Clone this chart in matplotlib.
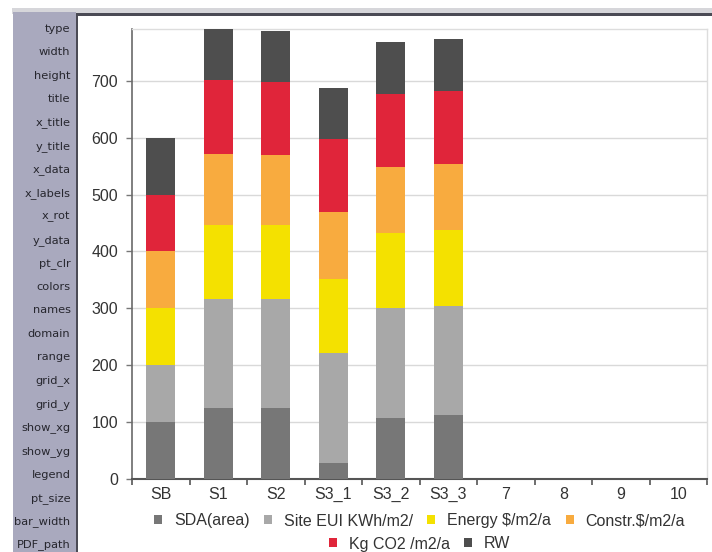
import numpy as np
import matplotlib
matplotlib.use("Agg")
import matplotlib.pyplot as plt
from matplotlib.patches import Rectangle

# ---- data -------------------------------------------------------------
categories = ["SB", "S1", "S2", "S3_1", "S3_2", "S3_3", "7", "8", "9", "10"]
series_names = ["SDA(area)", "Site EUI KWh/m2/", "Energy $/m2/a",
                "Constr.$/m2/a", "Kg CO2 /m2/a", "RW"]
sda = [100, 124, 124, 29, 108, 112]
site_eui = [100, 192, 192, 192, 192, 192]
energy = [100, 131, 131, 131, 132, 133]
constr = [100, 125, 122, 118, 117, 117]
co2 = [100, 129, 128, 127, 128, 128]
rw = [100, 90, 90, 91, 91, 91]
y_ticks = [0, 100, 200, 300, 400, 500, 600, 700]

param_rows = ["type", "width", "height", "title", "x_title", "y_title",
              "x_data", "x_labels", "x_rot", "y_data", "pt_clr", "colors",
              "names", "domain", "range", "grid_x", "grid_y", "show_xg",
              "show_yg", "legend", "pt_size", "bar_width", "PDF_path"]

colors = ["#777777", "#a8a8a8", "#f4e100", "#f8ab3f", "#e0253a", "#4e4e4e"]

# ---- figure / panel chrome -------------------------------------------
W, H = 712, 552
fig = plt.figure(figsize=(W / 100, H / 100), dpi=100)
fig.patch.set_facecolor("white")


def prect(x0, y0, x1, y1, color):
    """Rectangle in pixel units measured from the top-left corner."""
    fig.patches.append(Rectangle((x0 / W, 1 - y1 / H), (x1 - x0) / W,
                                 (y1 - y0) / H, transform=fig.transFigure,
                                 facecolor=color, edgecolor="none",
                                 zorder=0))


prect(12, 8, W, 14, "#d6d6da")          # header strip
prect(12.5, 12, 75.5, H, "#a9a9be")     # parameter column
prect(75.5, 13.5, 77.5, H, "#4b4b55")   # panel left border
prect(75.5, 13.5, W, 15.5, "#4b4b55")   # panel top border

row_y = np.linspace(29, 545, len(param_rows))
for name, yy in zip(param_rows, row_y):
    fig.text(70.5 / W, 1 - yy / H, name, ha="right", va="center",
             fontsize=8.2, color="#26262e", family="DejaVu Sans")

# ---- chart -------------------------------------------------------------
ax = fig.add_axes([132 / W, 1 - 479 / H, (707 - 132) / W, (479 - 29) / H])
font = "Liberation Sans"

series = [sda, site_eui, energy, constr, co2, rw]
x = np.arange(len(sda))
bottom = np.zeros(len(sda))
handles = []
for vals, c, name in zip(series, colors, series_names):
    bc = ax.bar(x, vals, width=0.5, bottom=bottom, color=c,
                edgecolor="none", label=name, zorder=3)
    handles.append(bc)
    bottom += np.array(vals)

ax.set_xlim(-0.5, len(categories) - 0.5)
ax.set_ylim(0, 791)
ax.set_yticks(y_ticks)
ax.set_yticklabels([str(v) for v in y_ticks], fontsize=11.5, family=font,
                   color="#333333")
ax.set_xticks(np.arange(len(categories)))
ax.set_xticklabels(categories, fontsize=11.5, family=font, color="#333333")
ax.set_xticks(np.arange(len(categories) + 1) - 0.5, minor=True)
ax.tick_params(axis="x", which="major", length=0, pad=6)
ax.tick_params(axis="x", which="minor", length=4, width=1.2,
               color="#555555")
ax.tick_params(axis="y", length=4, width=1, color="#777777", pad=6)

ax.grid(axis="y", color="#d9d9d9", linewidth=1, zorder=0)
ax.set_axisbelow(True)
for side in ("top", "right"):
    ax.spines[side].set_color("#dddddd")
    ax.spines[side].set_linewidth(1)
ax.spines["left"].set_color("#6a6a6a")
ax.spines["left"].set_linewidth(1.2)
ax.spines["bottom"].set_color("#555555")
ax.spines["bottom"].set_linewidth(1.5)

# ---- legend (two centred rows) ---------------------------------------
cx = (132 + 707) / 2 / W
leg_kw = dict(frameon=False, handlelength=0.5, handleheight=0.5,
              handletextpad=0.75, columnspacing=0.9, borderpad=0,
              prop={"family": font, "size": 11.5}, labelcolor="#333333")
leg1 = fig.legend(handles[:4], series_names[:4], ncol=4, loc="center",
                  bbox_to_anchor=(cx, 1 - 521 / H), **leg_kw)
leg2 = fig.legend(handles[4:], series_names[4:], ncol=2, loc="center",
                  bbox_to_anchor=(cx, 1 - 544 / H), **leg_kw)

fig.savefig("out.png", dpi=100)
